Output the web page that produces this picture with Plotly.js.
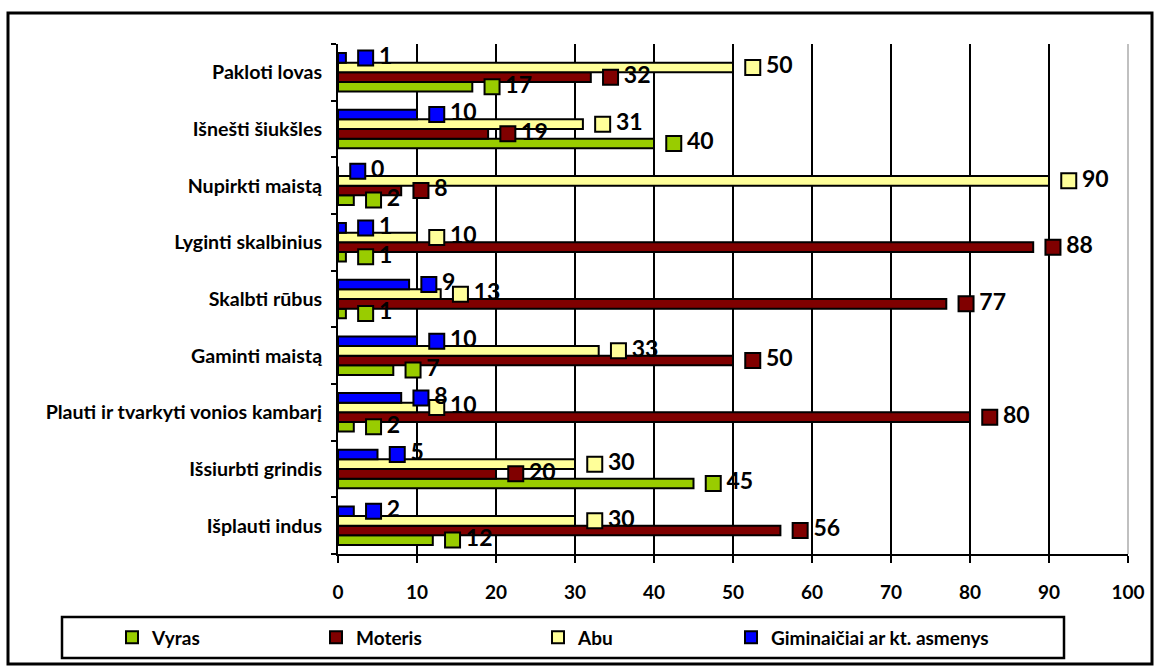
<!DOCTYPE html>
<html>
<head>
<meta charset="utf-8">
<script src="https://cdn.plot.ly/plotly-3.0.1.min.js"></script>
<style>
  html, body { margin: 0; padding: 0; background: #ffffff; }
  #chart { width: 1162px; height: 668px; }
</style>
</head>
<body>
<div id="chart"></div>
<script>
// Categories listed top to bottom as in the reference
const categories = [
  "Pakloti lovas",
  "Išnešti šiukšles",
  "Nupirkti maistą",
  "Lyginti skalbinius",
  "Skalbti rūbus",
  "Gaminti maistą",
  "Plauti ir tvarkyti vonios kambarį",
  "Išsiurbti grindis",
  "Išplauti indus"
];
const seriesNames = ["Vyras", "Moteris", "Abu", "Giminaičiai ar kt. asmenys"];
const vyras    = [17, 40, 2, 1, 1, 7, 2, 45, 12];
const moteris  = [32, 19, 8, 88, 77, 50, 80, 20, 56];
const abu      = [50, 31, 90, 10, 13, 33, 10, 30, 30];
const giminaiciai = [1, 10, 0, 1, 9, 10, 8, 5, 2];
const xTickStep = 10;
const xRange = [0, 100];

const seriesValues = [vyras, moteris, abu, giminaiciai];
const seriesColors = ["#99CC00", "#800000", "#FFFF99", "#0000FF"];

const FONT = "Lato, 'Open Sans', 'DejaVu Sans', sans-serif";
const GAP = 0.32;
const LABEL_PAD = 2.5; // data-unit gap between bar end and its label key

// pixel helpers for paper-coordinate placement
const L = 338, R = 1128, T = 44, B = 554;
const px = v => (v - L) / (R - L);
const py = v => (B - v) / (B - T);
const legendNames = ["legend", "legend2", "legend3", "legend4"];
const legendX = [112, 316, 538, 731];

const traces = [];
seriesValues.forEach((vals, i) => {
  traces.push({
    type: "bar",
    orientation: "h",
    name: seriesNames[i],
    legend: legendNames[i],
    y: categories,
    x: vals,
    marker: { color: seriesColors[i], line: { color: "#000000", width: 2 } },
    hoverinfo: "x+y+name"
  });
});
seriesValues.forEach((vals, i) => {
  traces.push({
    type: "scatter",
    mode: "markers+text",
    orientation: "h",
    showlegend: false,
    y: categories,
    x: vals.map(v => v + LABEL_PAD),
    text: vals.map(v => "\u2009" + String(v)),
    textposition: "middle right",
    textfont: { family: FONT, size: 23, color: "#000000", weight: "bold" },
    marker: { symbol: "square", size: 15, color: seriesColors[i], line: { color: "#000000", width: 2 } },
    cliponaxis: false,
    hoverinfo: "skip"
  });
});

const legendBase = {
  orientation: "h",
  xanchor: "left",
  yanchor: "middle",
  font: { family: FONT, size: 19, color: "#000000", weight: "bold" },
  bgcolor: "rgba(0,0,0,0)",
  borderwidth: 0
};

const layout = {
  width: 1162,
  height: 668,
  margin: { l: L, r: 1162 - R, t: T, b: 668 - B, pad: 0 },
  paper_bgcolor: "#ffffff",
  plot_bgcolor: "#ffffff",
  barmode: "group",
  bargap: GAP,
  bargroupgap: 0,
  scattermode: "group",
  scattergap: GAP,
  showlegend: true,
  xaxis: {
    range: xRange,
    tickmode: "linear",
    tick0: 0,
    dtick: xTickStep,
    showgrid: true,
    gridcolor: "#000000",
    gridwidth: 2,
    zeroline: false,
    showline: true,
    linecolor: "#000000",
    linewidth: 2,
    ticks: "outside",
    ticklen: 7,
    tickwidth: 2,
    tickcolor: "#000000",
    ticklabelstandoff: 13,
    tickfont: { family: FONT, size: 19, color: "#000000", weight: "bold" },
    fixedrange: true
  },
  yaxis: {
    type: "category",
    categoryorder: "array",
    categoryarray: categories.slice().reverse(),
    showgrid: false,
    zeroline: false,
    showline: true,
    linecolor: "#000000",
    linewidth: 2,
    ticks: "outside",
    tickson: "boundaries",
    ticklen: 5,
    tickwidth: 2,
    tickcolor: "#000000",
    ticklabelstandoff: 10,
    tickfont: { family: FONT, size: 19.6, color: "#000000", weight: "bold" },
    fixedrange: true
  },
  shapes: [
    // plot area right border (light grey)
    { type: "line", xref: "paper", yref: "paper", x0: 1, x1: 1, y0: 0, y1: 1,
      line: { color: "#C0C0C0", width: 2 } },
    // legend frame
    { type: "rect", xref: "paper", yref: "paper",
      x0: px(62), x1: px(1064), y0: py(658), y1: py(617),
      line: { color: "#000000", width: 2.5 }, fillcolor: "rgba(0,0,0,0)" },
    // outer chart frame
    { type: "rect", xref: "paper", yref: "paper",
      x0: px(8), x1: px(1152), y0: py(664), y1: py(13),
      line: { color: "#000000", width: 3 }, fillcolor: "rgba(0,0,0,0)" }
  ]
};
legendNames.forEach((ln, i) => {
  layout[ln] = Object.assign({}, legendBase, { x: px(legendX[i]), y: py(637.5) });
});

Plotly.newPlot("chart", traces, layout, { displayModeBar: false, staticPlot: true });
</script>
</body>
</html>
